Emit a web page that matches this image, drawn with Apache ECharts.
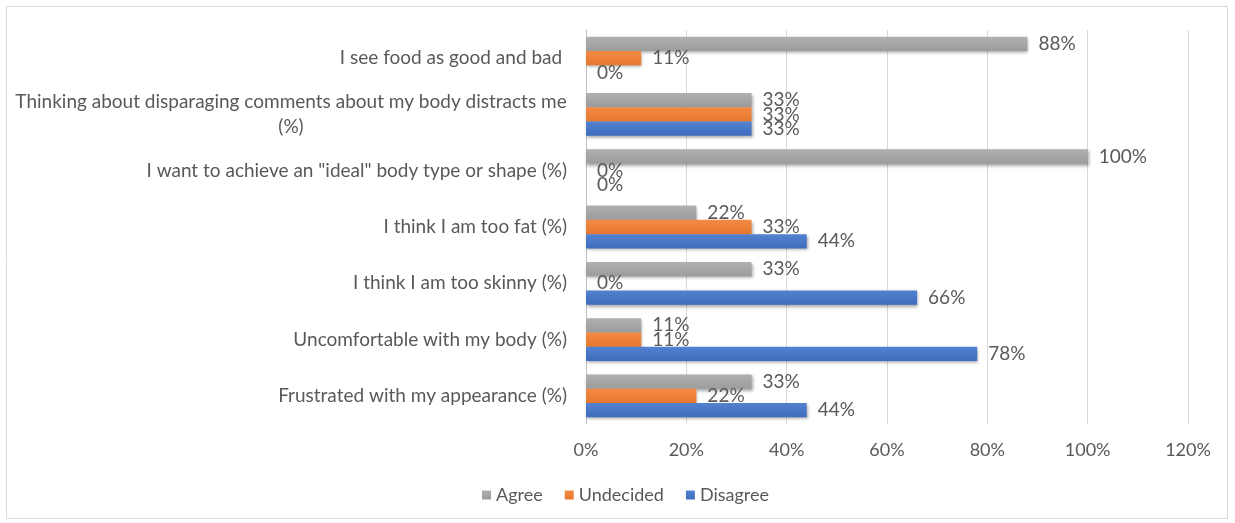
<!DOCTYPE html>
<html>
<head>
<meta charset="utf-8">
<script src="https://cdn.jsdelivr.net/npm/echarts@6/dist/echarts.min.js"></script>
<style>
  html, body { margin: 0; padding: 0; background: #fff; }
  #chart { width: 1235px; height: 523px; }
</style>
</head>
<body>
<div id="chart"></div>
<script>
// Survey statements, bottom to top as they appear on the category axis
const categories = [
  'Frustrated with my appearance (%)',
  'Uncomfortable with my body (%)',
  'I think I am too skinny (%)',
  'I think I am too fat (%)',
  'I want to achieve an "ideal" body type or shape (%)',
  'Thinking about disparaging comments about my body distracts me\n(%)',
  'I see food as good and bad '
];

// Percent of respondents per answer
const agree     = [33, 11, 33, 22, 100, 33, 88];
const undecided = [22, 11, 0, 33, 0, 33, 11];
const disagree  = [44, 78, 66, 44, 0, 33, 0];

const seriesNames = ['Agree', 'Undecided', 'Disagree'];
const xTicks = { min: 0, max: 120, interval: 20 };

const FONT = 'Lato';
const TEXT = '#595959';
const CAT_SIZE = 19;

// Width of a string in the category label font, used to centre wrapped lines
const measureCtx = document.createElement('canvas').getContext('2d');
measureCtx.font = CAT_SIZE + 'px ' + FONT;
function textWidth(s) { return Math.ceil(measureCtx.measureText(s).width); }

// Wrapped labels: every line sits in a box as wide as the longest line,
// centred inside it, while the whole block stays right-aligned to the axis
function categoryLabel(value) {
  const lines = value.split('\n');
  if (lines.length === 1) return value;
  return lines.map(function (l) { return '{c|' + l + '}'; }).join('\n');
}

function wrappedRich() {
  let w = 0;
  categories.forEach(function (c) {
    const lines = c.split('\n');
    if (lines.length > 1) {
      lines.forEach(function (l) { w = Math.max(w, textWidth(l)); });
    }
  });
  return {
    c: {
      width: w,
      align: 'center',
      color: TEXT,
      fontFamily: FONT,
      fontSize: CAT_SIZE,
      lineHeight: 25
    }
  };
}

function grad(top, bottom) {
  return new echarts.graphic.LinearGradient(0, 0, 0, 1, [
    { offset: 0, color: top },
    { offset: 1, color: bottom }
  ]);
}

function barSeries(name, values, top, bottom) {
  return {
    name: name,
    type: 'bar',
    data: values,
    barGap: '0%',
    barCategoryGap: '24%',
    itemStyle: {
      color: grad(top, bottom),
      shadowColor: 'rgba(0,0,0,0.35)',
      shadowBlur: 3,
      shadowOffsetX: 1,
      shadowOffsetY: 2
    },
    label: {
      show: true,
      position: 'right',
      distance: 11,
      formatter: '{c}%',
      color: TEXT,
      fontFamily: FONT,
      fontSize: 19
    }
  };
}

const chart = echarts.init(document.getElementById('chart'));
chart.setOption({
  animation: false,
  textStyle: { fontFamily: FONT },
  graphic: [{
    type: 'rect',
    shape: { x: 6.5, y: 6.5, width: 1221, height: 512 },
    style: { fill: 'none', stroke: '#d9d9d9', lineWidth: 1 },
    silent: true
  }],
  grid: { left: 586, right: 47, top: 30, bottom: 99 },
  legend: {
    data: seriesNames,
    top: 481,
    left: 477,
    itemWidth: 9,
    itemHeight: 9,
    itemGap: 22,
    icon: 'rect',
    textStyle: { color: TEXT, fontFamily: FONT, fontSize: 18 }
  },
  xAxis: {
    type: 'value',
    min: xTicks.min,
    max: xTicks.max,
    interval: xTicks.interval,
    axisLine: { show: false },
    axisTick: { show: false },
    axisLabel: {
      formatter: '{value}%',
      color: TEXT,
      fontFamily: FONT,
      fontSize: 18,
      margin: 17
    },
    splitLine: { show: true, lineStyle: { color: '#d9d9d9', width: 1 } }
  },
  yAxis: {
    type: 'category',
    data: categories,
    axisLine: { show: true, lineStyle: { color: '#bfbfbf', width: 1 } },
    axisTick: { show: false },
    axisLabel: {
      color: TEXT,
      fontFamily: FONT,
      fontSize: CAT_SIZE,
      margin: 19,
      align: 'right',
      lineHeight: 25,
      formatter: categoryLabel,
      rich: wrappedRich()
    }
  },
  series: [
    barSeries(seriesNames[0], agree, '#B0B0B0', '#9C9C9C'),
    barSeries(seriesNames[1], undecided, '#F28A45', '#E8772D'),
    barSeries(seriesNames[2], disagree, '#5382D0', '#3F6CBE')
  ]
});
</script>
</body>
</html>
